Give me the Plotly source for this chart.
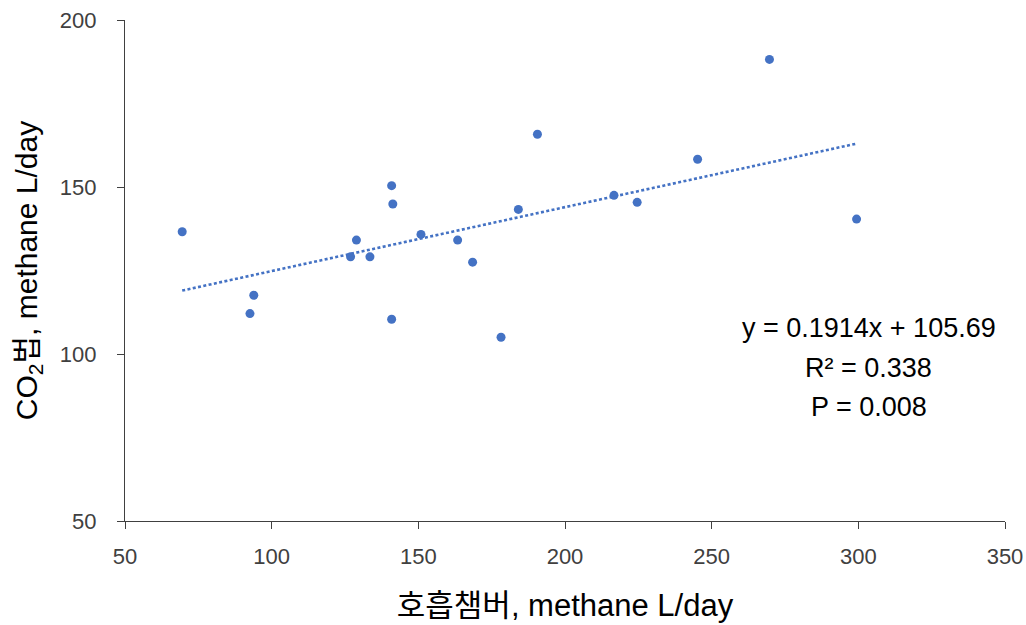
import plotly.graph_objects as go

# Daily methane output per animal: respiration chamber (x) vs CO2 method (y)
chamber_methane = [69.5, 92.6, 93.9, 126.9, 128.9, 133.5, 140.9, 141.3, 140.9, 150.9,
                   163.4, 168.5, 178.2, 184.1, 190.6, 216.7, 224.6, 245.2, 269.7, 299.4]
co2_methane = [136.6, 112.1, 117.6, 129.1, 134.1, 129.1, 150.4, 144.9, 110.4, 135.8,
               134.1, 127.5, 105.0, 143.3, 165.8, 147.5, 145.4, 158.3, 188.2, 140.4]

# Linear fit reported on the chart
slope = 0.1914
intercept = 105.69
r_squared = 0.338
p_value = 0.008

x_ticks = [50, 100, 150, 200, 250, 300, 350]
y_ticks = [50, 100, 150, 200]

BLUE = "#4472C4"
FONT = "Liberation Sans, Noto Sans CJK KR, sans-serif"

fit_x = [min(chamber_methane), max(chamber_methane)]
fit_y = [slope * v + intercept for v in fit_x]

fig = go.Figure()
fig.add_trace(go.Scatter(
    x=fit_x, y=fit_y, mode="lines",
    line=dict(color=BLUE, width=2.6, dash="3px,2.4px"),
    hoverinfo="skip", showlegend=False,
))
fig.add_trace(go.Scatter(
    x=chamber_methane, y=co2_methane, mode="markers",
    marker=dict(color=BLUE, size=9, line=dict(width=0)),
    showlegend=False,
))

labels = [
    f"y = {slope}x + {intercept}",
    f"R² = {r_squared}",
    f"P = {p_value}",
]
for i, txt in enumerate(labels):
    fig.add_annotation(
        x=0.845, y=0.385 - i * 0.079, xref="paper", yref="paper",
        text=txt, showarrow=False, xanchor="center", yanchor="middle",
        font=dict(family=FONT, size=27, color="#000000"),
    )

axis_common = dict(
    showgrid=False, zeroline=False, showline=True, automargin=False,
    linecolor="#404040", linewidth=1.3,
    ticks="outside", ticklen=7, tickwidth=1.3, tickcolor="#404040",
    tickfont=dict(family=FONT, size=22, color="#404040"),
)

fig.update_layout(
    width=1026, height=625,
    margin=dict(l=125, r=21, t=20, b=104),
    paper_bgcolor="white", plot_bgcolor="white",
    xaxis=dict(
        range=[50, 350], tickvals=x_ticks, ticklabelstandoff=8,
        title=dict(text="호흡챔버, methane L/day", standoff=26,
                   font=dict(family=FONT, size=31, color="#000000")),
        **axis_common,
    ),
    yaxis=dict(
        range=[50, 200], tickvals=y_ticks, ticklabelstandoff=16,
        title=dict(text="CO<sub>2</sub>법, methane L/day", standoff=13,
                   font=dict(family=FONT, size=30, color="#000000")),
        **axis_common,
    ),
)

fig.write_html("out.html")
